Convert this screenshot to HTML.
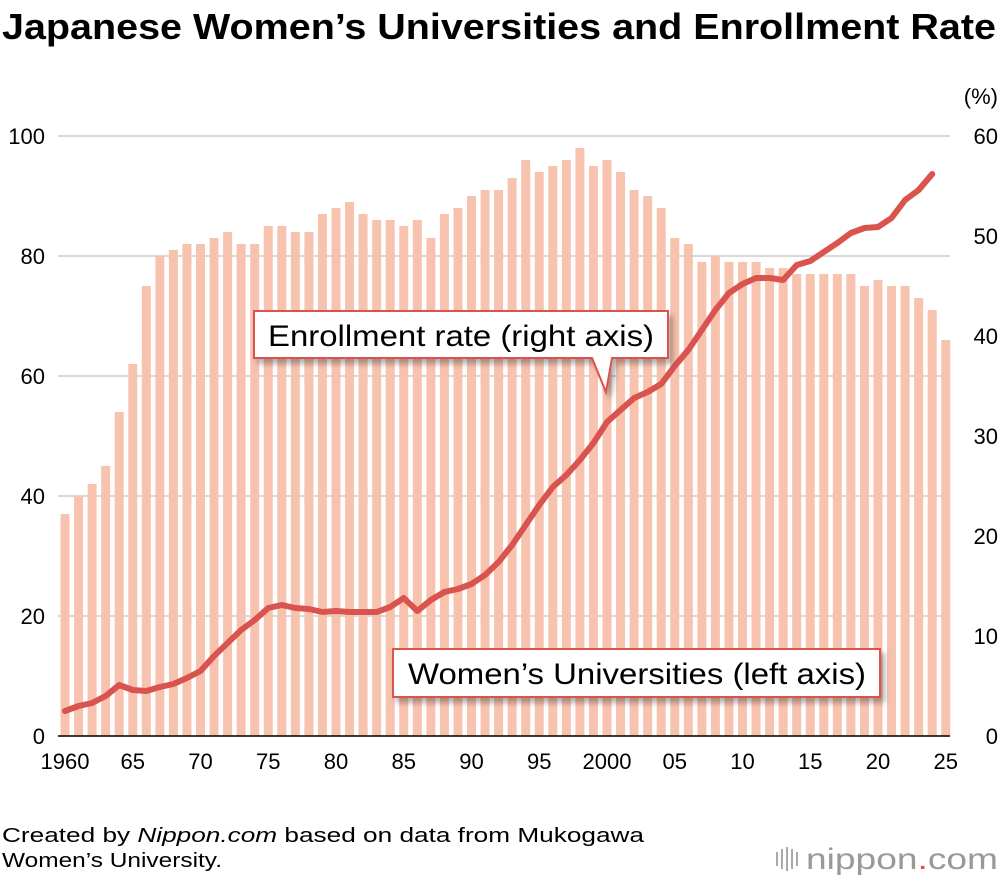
<!DOCTYPE html>
<html><head><meta charset="utf-8"><style>
body{margin:0;background:#fff;font-family:"Liberation Sans",Arial,sans-serif;}
#wrap{position:relative;width:1000px;height:882px;overflow:hidden;}
</style></head><body>
<div id="wrap">
<svg id="svg" width="1000" height="882" viewBox="0 0 1000 882">
<defs><filter id="sh" x="-10%" y="-20%" width="130%" height="160%"><feDropShadow dx="4" dy="5" stdDeviation="3" flood-color="#000" flood-opacity="0.3"/></filter></defs>
<text x="2" y="39" font-size="36" font-weight="bold" fill="#000" textLength="994" lengthAdjust="spacingAndGlyphs">Japanese Women’s Universities and Enrollment Rate</text>
<text x="998" y="104" font-size="22" text-anchor="end">(%)</text>
<g id="grid"></g><g id="bars"></g><g id="line"></g><g id="axes"></g>
<g filter="url(#sh)">
<path d="M254,311 H668 V358 H612 L606,392 L592,358 H254 Z" fill="#fff" stroke="#d9534f" stroke-width="2"/>
</g>
<text x="268" y="346" font-size="30" textLength="386" lengthAdjust="spacingAndGlyphs">Enrollment rate (right axis)</text>
<g filter="url(#sh)">
<rect x="393" y="649" width="487" height="48" fill="#fff" stroke="#d9534f" stroke-width="2"/>
</g>
<text x="408" y="684" font-size="30" textLength="458" lengthAdjust="spacingAndGlyphs">Women’s Universities (left axis)</text>
<text x="2" y="842" font-size="20" textLength="642" lengthAdjust="spacingAndGlyphs">Created by <tspan font-style="italic">Nippon.com</tspan> based on data from Mukogawa</text>
<text x="2" y="867" font-size="20" textLength="220" lengthAdjust="spacingAndGlyphs">Women’s University.</text>
<g>
<rect x="776" y="852" width="2" height="14" fill="#aaa"/><rect x="781" y="849" width="2" height="20" fill="#aaa"/><rect x="786" y="847" width="2" height="24" fill="#aaa"/><rect x="791" y="849" width="2" height="20" fill="#aaa"/><rect x="796" y="852" width="2" height="14" fill="#aaa"/>
<text x="806" y="869" font-size="30" fill="#999" textLength="192" lengthAdjust="spacingAndGlyphs">nippon<tspan fill="#d9534f">.</tspan>com</text>
</g>
</svg>
</div>
<script>
const years=[];for(let y=1960;y<=2025;y++)years.push(y);
const universities=[37,40,42,45,54,62,75,80,81,82,82,83,84,82,82,85,85,84,84,87,88,89,87,86,86,85,86,83,87,88,90,91,91,93,96,94,95,96,98,95,96,94,91,90,88,83,82,79,80,79,79,79,78,78,77,77,77,77,77,75,76,75,75,73,71,66];
const enrollment=[2.5,3.0,3.3,4.0,5.1,4.6,4.5,4.9,5.2,5.8,6.5,8.0,9.3,10.6,11.6,12.8,13.1,12.8,12.7,12.4,12.5,12.4,12.4,12.4,12.9,13.8,12.5,13.6,14.4,14.7,15.2,16.1,17.4,19.1,21.1,23.1,24.9,26.1,27.6,29.3,31.4,32.6,33.8,34.4,35.2,37.0,38.6,40.6,42.6,44.3,45.2,45.8,45.8,45.6,47.1,47.5,48.4,49.3,50.3,50.8,50.9,51.8,53.6,54.6,56.2];
const leftTicks=[0,20,40,60,80,100];
const rightTicks=[0,10,20,30,40,50,60];
const xLabels=["1960","65","70","75","80","85","90","95","2000","05","10","15","20","25"];
const NS="http://www.w3.org/2000/svg";
const X=y=>65+(y-1960)*13.55;
const YL=v=>736-v*6;
const YR=v=>736-v*10;
function mk(t,a,p){const e=document.createElementNS(NS,t);for(const k in a)e.setAttribute(k,a[k]);p.appendChild(e);return e;}
const grid=document.getElementById('grid'),bars=document.getElementById('bars'),line=document.getElementById('line'),axes=document.getElementById('axes');
leftTicks.forEach(v=>{
 const l=mk('line',{x1:58,x2:950,y1:YL(v),y2:YL(v),stroke:'#ccc','stroke-width':1.5},grid);
 
 
 const t=mk('text',{x:45,y:YL(v)+8,'font-size':22,'text-anchor':'end'},axes);t.textContent=v;
 
 
});
rightTicks.forEach(v=>{
 const t=mk('text',{x:998,y:YR(v)+8,'font-size':22,'text-anchor':'end'},axes);t.textContent=v;
 
 
});
universities.forEach((v,i)=>{
 const x=X(years[i]);
 const r=mk('rect',{x:x-4.5,y:YL(v),width:9,height:YL(0)-YL(v),fill:'#f8c3ae'},bars);
 
 
});
const pts=enrollment.map((v,i)=>X(years[i])+','+YR(v)).join(' ');
const pl=mk('polyline',{points:pts,fill:'none',stroke:'#d9534f','stroke-width':6,'stroke-linejoin':'round','stroke-linecap':'round'},line);


const bl=mk('line',{x1:58,x2:950,y1:736,y2:736,stroke:'#000','stroke-width':1.5},axes);


xLabels.forEach((s,i)=>{
 const t=mk('text',{x:X(1960+i*5),y:769,'font-size':22,'text-anchor':'middle'},axes);t.textContent=s;
 
 
});
</script>
</body></html>
